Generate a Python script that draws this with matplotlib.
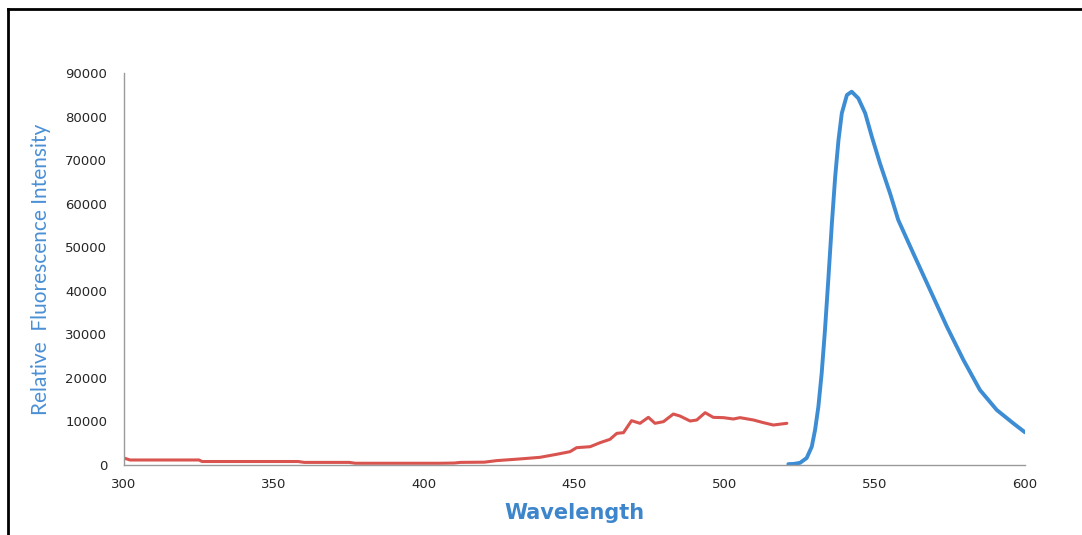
import matplotlib
matplotlib.use("Agg")
import matplotlib.pyplot as plt
from matplotlib.lines import Line2D

# Excitation scan (red) and emission scan (blue)
excitation_nm = [300, 302, 325, 326, 358, 360, 375, 377, 405, 410, 412, 420, 424,
                 428, 432, 438.5, 444, 448.5, 450.7, 455.2, 458.5, 461.8, 464.1,
                 466.3, 469.0, 471.8, 474.6, 476.8, 479.6, 482.9, 485.1, 488.5,
                 490.7, 493.5, 496.2, 499.6, 502.9, 505.1, 509.6, 512.9, 516.2, 520.7]
excitation_int = [1600, 1150, 1150, 800, 800, 600, 600, 400, 400, 450, 600, 650, 1000,
                  1200, 1400, 1760, 2450, 3060, 3980, 4200, 5120, 5890, 7270,
                  7420, 10180, 9570, 10940, 9570, 9950, 11700, 11250, 10100,
                  10330, 12010, 10940, 10870, 10560, 10870, 10330, 9720, 9180, 9570]

emission_nm = [521.2, 523.0, 525.1, 527.3, 529.0, 530.1, 531.2, 532.3, 533.4, 534.5,
               535.7, 536.8, 537.9, 539.0, 540.7, 542.3, 544.5, 546.8, 549.0, 551.7,
               555.1, 557.8, 562.8, 568.4, 574.0, 579.5, 585.0, 590.6, 596.1, 600.0]
emission_int = [200, 250, 500, 1600, 4200, 8040, 13390, 21050, 31000, 42480,
                55490, 66200, 74620, 80750, 84950, 85710, 84190, 80750, 75380, 69270,
                62300, 56250, 48610, 40180, 31750, 24110, 17220, 12630, 9570, 7500]

x_ticks = [300, 350, 400, 450, 500, 550, 600]
y_ticks = [0, 10000, 20000, 30000, 40000, 50000, 60000, 70000, 80000, 90000]

fig = plt.figure(figsize=(10.82, 5.35), dpi=100)
ax = fig.add_axes([124 / 1082, 1 - 465 / 535, (1025 - 124) / 1082, (465 - 73) / 535])

ax.plot(excitation_nm, excitation_int, color="#d9534f", lw=2.2,
        solid_joinstyle="round", solid_capstyle="round")
ax.plot(emission_nm, emission_int, color="#3d8dd4", lw=2.8,
        solid_joinstyle="round", solid_capstyle="round")

ax.set_xlim(300, 600)
ax.set_ylim(0, 90000)
ax.set_xticks(x_ticks)
ax.set_yticks(y_ticks)
ax.set_xticklabels([str(v) for v in x_ticks])
ax.set_yticklabels([str(v) for v in y_ticks])
ax.tick_params(axis="both", length=0, labelsize=9.5, colors="#262626")
ax.tick_params(axis="y", pad=12)
ax.tick_params(axis="x", pad=9)

for side in ("top", "right"):
    ax.spines[side].set_visible(False)
for side in ("left", "bottom"):
    ax.spines[side].set_color("#9a9a9a")
    ax.spines[side].set_linewidth(1.0)

ax.set_ylabel("Relative  Fluorescence Intensity", color="#4a8fd5", fontsize=15,
              family="Lato")
ax.yaxis.set_label_coords(-0.081, 0.5)
ax.set_xlabel("Wavelength", color="#3d86cc", fontsize=15, fontweight="bold",
              family="DejaVu Sans")
ax.xaxis.set_label_coords(0.5, -0.097)

# outer frame lines along the top and left of the figure
fig.add_artist(Line2D([8 / 1082, 8 / 1082], [0, 1 - 9 / 535], color="black", lw=2,
                      transform=fig.transFigure))
fig.add_artist(Line2D([8 / 1082, 1], [1 - 9 / 535, 1 - 9 / 535], color="black", lw=2,
                      transform=fig.transFigure))

fig.savefig("out.png", dpi=100)
